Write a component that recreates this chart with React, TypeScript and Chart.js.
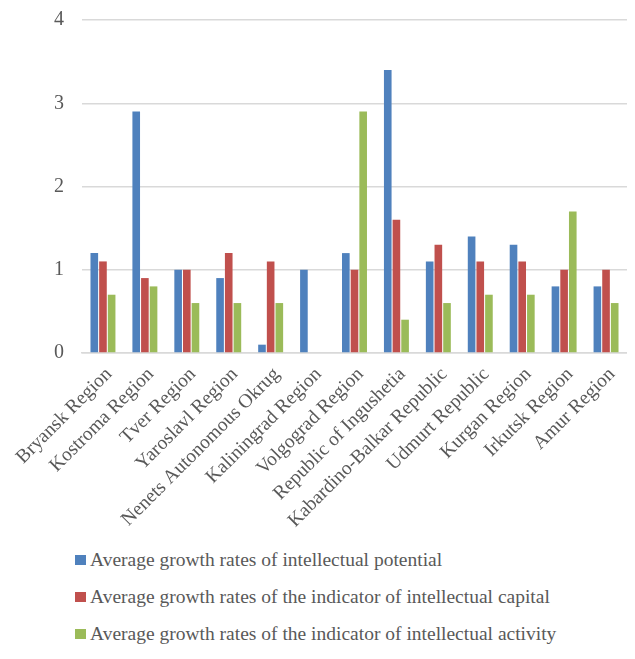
import React, { useEffect, useRef } from "react";
import { Chart, registerables } from "chart.js";

Chart.register(...registerables);

const categories = [
  "Bryansk Region",
  "Kostroma Region",
  "Tver Region",
  "Yaroslavl Region",
  "Nenets Autonomous Okrug",
  "Kaliningrad Region",
  "Volgograd Region",
  "Republic of Ingushetia",
  "Kabardino-Balkar Republic",
  "Udmurt Republic",
  "Kurgan Region",
  "Irkutsk Region",
  "Amur Region",
];

const seriesNames = [
  "Average growth rates of intellectual potential",
  "Average growth rates of the indicator of intellectual capital",
  "Average growth rates of the indicator of intellectual activity",
];

const potential = [1.2, 2.9, 1.0, 0.9, 0.1, 1.0, 1.2, 3.4, 1.1, 1.4, 1.3, 0.8, 0.8];
const capital = [1.1, 0.9, 1.0, 1.2, 1.1, 0, 1.0, 1.6, 1.3, 1.1, 1.1, 1.0, 1.0];
const activity = [0.7, 0.8, 0.6, 0.6, 0.6, 0, 2.9, 0.4, 0.6, 0.7, 0.7, 1.7, 0.6];

const colors = ["#4f81bd", "#c0504d", "#9bbb59"];
const textColor = "#595959";
const fontFamily = "'Liberation Serif', 'Times New Roman', serif";

export default function App() {
  const ref = useRef<HTMLCanvasElement | null>(null);

  useEffect(() => {
    if (!ref.current) return;
    const values = [potential, capital, activity];
    const chart = new Chart(ref.current, {
      type: "bar",
      data: {
        labels: categories,
        datasets: seriesNames.map((name, i) => ({
          label: name,
          data: values[i],
          backgroundColor: colors[i],
          borderWidth: 0,
          categoryPercentage: 0.62,
          barPercentage: 0.88,
        })),
      },
      options: {
        animation: false,
        responsive: false,
        maintainAspectRatio: false,
        layout: { padding: { top: 2, right: 0, left: 0, bottom: 0 } },
        plugins: {
          legend: { display: false },
          tooltip: { enabled: false },
        },
        scales: {
          x: {
            grid: { display: false },
            border: { display: true, color: "#d9d9d9", width: 1.5 },
            ticks: {
              color: textColor,
              font: { family: fontFamily, size: 19.5 },
              minRotation: 45,
              maxRotation: 45,
              autoSkip: false,
              padding: 2,
              labelOffset: 6,
            },
            afterFit: (scale: any) => {
              scale.height = 185;
            },
          },
          y: {
            min: 0,
            max: 4,
            grid: { color: "#d9d9d9", lineWidth: 1.5, drawTicks: false },
            border: { display: false },
            ticks: {
              stepSize: 1,
              color: textColor,
              font: { family: fontFamily, size: 20 },
              padding: 18,
            },
            afterFit: (scale: any) => {
              scale.width = 74;
            },
          },
        },
      },
    });
    return () => chart.destroy();
  }, []);

  return (
    <div style={{ width: 619 }}>
      <canvas ref={ref} width={619} height={548} style={{ display: "block", marginTop: -18 }} />
      <div style={{ marginTop: 3, paddingLeft: 67, fontFamily, fontSize: 19.5, color: textColor }}>
        {seriesNames.map((name, i) => (
          <div key={name} style={{ height: 37, lineHeight: "37px", display: "flex", alignItems: "center", whiteSpace: "nowrap" }}>
            <span
              style={{
                display: "inline-block",
                width: 11,
                height: 10,
                background: colors[i],
                marginRight: 4,
              }}
            />
            <span>{name}</span>
          </div>
        ))}
      </div>
    </div>
  );
}
